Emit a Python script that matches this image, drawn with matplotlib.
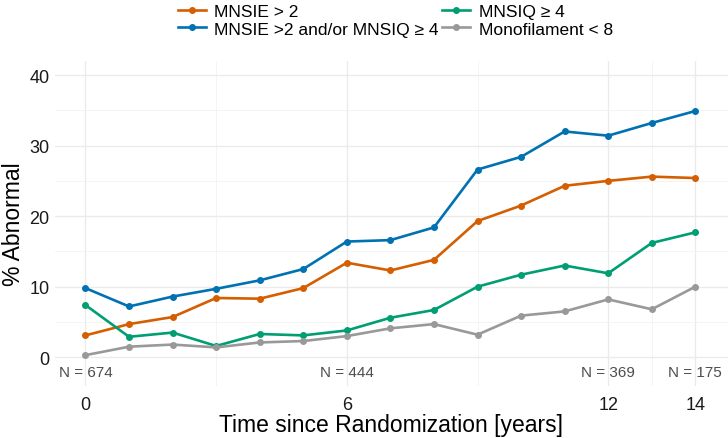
import matplotlib
matplotlib.use("Agg")
import matplotlib.pyplot as plt
from matplotlib.ticker import FixedLocator

plt.rcParams.update({"font.family": ["Liberation Sans", "DejaVu Sans"]})

ORANGE = "#D55E00"; BLUE = "#0072B2"; GREEN = "#009E73"; GRAY = "#999999"

years = list(range(15))
mnsie = [3.1, 4.7, 5.7, 8.4, 8.3, 9.8, 13.4, 12.3, 13.8, 19.3, 21.5, 24.3, 25.0, 25.6, 25.4]
mnsie_or_mnsiq = [9.8, 7.2, 8.6, 9.7, 10.9, 12.5, 16.4, 16.6, 18.4, 26.6, 28.4, 32.0, 31.4, 33.2, 34.9]
mnsiq = [7.4, 2.9, 3.5, 1.6, 3.3, 3.1, 3.8, 5.6, 6.7, 10.0, 11.7, 13.0, 11.9, 16.2, 17.7]
monofil = [0.3, 1.5, 1.8, 1.4, 2.1, 2.3, 3.0, 4.1, 4.7, 3.2, 5.9, 6.5, 8.2, 6.8, 10.0]

n_years = [0, 6, 12, 14]
n_labels = ["N = 674", "N = 444", "N = 369", "N = 175"]

fig = plt.figure(figsize=(7.28, 4.39), dpi=100)
ax = fig.add_axes([0.0755, 0.118, 0.9245, 0.741])

series = [("MNSIE > 2", mnsie, ORANGE),
          ("MNSIE >2 and/or MNSIQ \u2265 4", mnsie_or_mnsiq, BLUE),
          ("MNSIQ \u2265 4", mnsiq, GREEN),
          ("Monofilament < 8", monofil, GRAY)]
for name, vals, col in series:
    ax.plot(years, vals, color=col, lw=1.9, marker="o", ms=4, label=name)

# sample sizes along the bottom of the panel
for xv, lab in zip(n_years, n_labels):
    ax.text(xv, -2.1, lab, ha="center", va="center", fontsize=11, color="#4d4d4d")

ax.set_xlim(-0.7, 14.75)
ax.set_ylim(-4.1, 42)
ax.set_xticks(n_years)
ax.xaxis.set_minor_locator(FixedLocator([3, 9, 13]))
ax.set_yticks([0, 10, 20, 30, 40])
ax.yaxis.set_minor_locator(FixedLocator([5, 15, 25, 35]))
ax.grid(which="major", color="#ebebeb", lw=1.0)
ax.grid(which="minor", color="#f2f2f2", lw=0.6)
ax.set_axisbelow(True)
for sp in ax.spines.values():
    sp.set_visible(False)
ax.tick_params(which="both", length=0, labelsize=13, labelcolor="#1a1a1a")
ax.tick_params(axis="x", pad=7)
ax.tick_params(axis="y", pad=4)
ax.set_xlabel("Time since Randomization [years]", fontsize=16.5, labelpad=0)
ax.set_ylabel("% Abnormal", fontsize=16.5, labelpad=3)

fig.legend(loc="upper center", bbox_to_anchor=(0.543, 1.025), ncol=2, frameon=False,
           fontsize=12.5, handlelength=1.6, columnspacing=0.2, labelspacing=0.15,
           handletextpad=0.5)

fig.savefig("out.png", dpi=100, facecolor="white")
